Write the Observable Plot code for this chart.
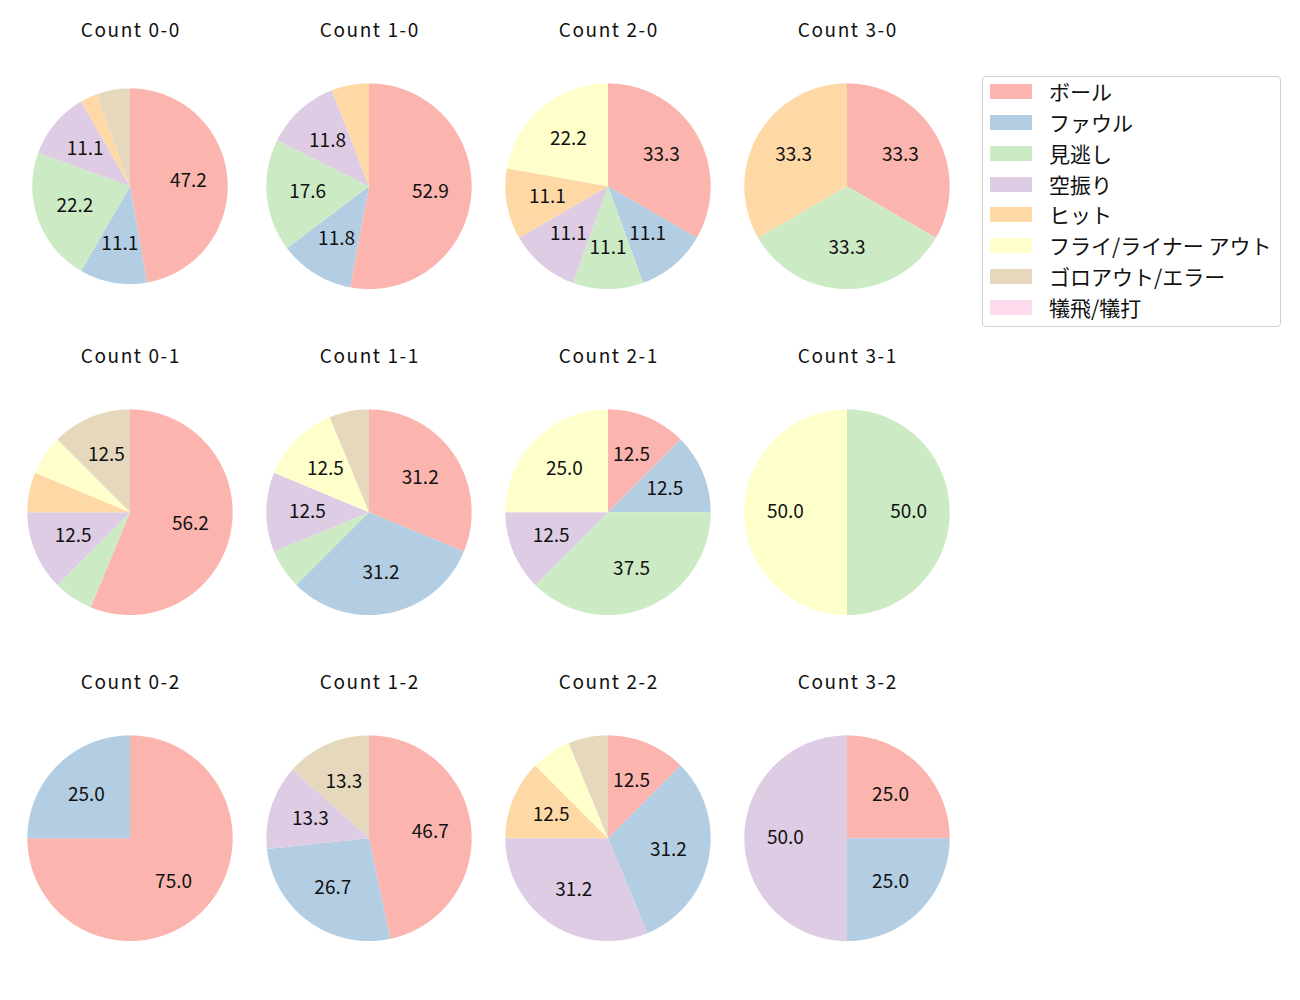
<!DOCTYPE html>
<html>
<head>
<meta charset="utf-8">
<script src="https://cdn.jsdelivr.net/npm/d3@7"></script>
<script src="https://cdn.jsdelivr.net/npm/@observablehq/plot@0.6"></script>
<style>
  body { margin: 0; background: #fff; font-family: "Noto Sans CJK JP", "Noto Sans", sans-serif; }
  #wrap { position: relative; width: 1300px; height: 1000px; }
  #chart { position: absolute; left: 0; top: 0; }
  #legend { position: absolute; left: 982px; top: 76px; width: 297px; height: 249px;
            border: 1px solid #d0d0d0; border-radius: 4px; background: #fff; }
  .row { position: absolute; left: 0; height: 30px; display: flex; align-items: center; }
  .sw { position: absolute; left: 7px; width: 42px; height: 15px; }
  .lb { position: absolute; left: 66px; white-space: nowrap; font-size: 21px; color: #111; line-height: 1; }
</style>
</head>
<body>
<div id="wrap"><div id="chart"></div><div id="legend"></div></div>
<script>
// ---- data ----
const categories = ["ボール", "ファウル", "見逃し", "空振り", "ヒット", "フライ/ライナー アウト", "ゴロアウト/エラー", "犠飛/犠打"];
const colors = ["#fbb4ae", "#b3cde3", "#ccebc5", "#decbe4", "#fed9a6", "#ffffcc", "#e5d8bd", "#fddaec"];
const counts = ["0-0", "1-0", "2-0", "3-0", "0-1", "1-1", "2-1", "3-1", "0-2", "1-2", "2-2", "3-2"];
const ball      = [17, 9, 3, 1, 9, 5, 1, 0, 3, 7, 2, 1];
const foul      = [4, 2, 1, 0, 0, 5, 1, 0, 1, 4, 5, 1];
const called    = [8, 3, 1, 1, 1, 1, 3, 1, 0, 0, 0, 0];
const swinging  = [4, 2, 1, 0, 2, 2, 1, 0, 0, 2, 5, 2];
const hit       = [1, 1, 1, 1, 1, 0, 0, 0, 0, 0, 2, 0];
const flyout    = [0, 0, 2, 0, 1, 2, 2, 1, 0, 0, 1, 0];
const groundout = [2, 0, 0, 0, 2, 1, 0, 0, 0, 2, 1, 0];
const sacrifice = [0, 0, 0, 0, 0, 0, 0, 0, 0, 0, 0, 0];
const series = [ball, foul, called, swinging, hit, flyout, groundout, sacrifice];

// ---- layout (pixels) ----
const R = 103;            // pie radius in px (= 1 data unit)
const fw = 239.8;         // facet width
const fh = 326.5;         // facet height
const ml = 8.5;
const width = 980;
const height = 1000;
const cy = 185;           // pie center offset from facet top

function fmt(p) { // round half to even like Python's %1.1f
  const v = p * 10;
  let r = Math.round(v);
  if (Math.abs(v - Math.floor(v) - 0.5) < 1e-9) { const f = Math.floor(v); r = f % 2 === 0 ? f : f + 1; }
  return (r / 10).toFixed(1);
}

const wedges = [];
const labels = [];
const titles = [];
counts.forEach((c, i) => {
  const [b, s] = c.split("-").map(Number);
  titles.push({b, s, text: "Count " + c});
  const vals = series.map(a => a[i]);
  const total = d3.sum(vals);
  const rr = (i === 0) ? 98 / 103 : 1;
  let acc = 0;
  vals.forEach((v, k) => {
    if (v <= 0) return;
    const a0 = acc / total * 2 * Math.PI;
    acc += v;
    const a1 = acc / total * 2 * Math.PI;
    const key = c + "|" + k;
    const n = Math.max(2, Math.ceil((a1 - a0) / (Math.PI / 180)));
    wedges.push({b, s, key, cat: categories[k], x: 0, y: 0});
    for (let j = 0; j <= n; j++) {
      const t = a0 + (a1 - a0) * j / n;
      wedges.push({b, s, key, cat: categories[k], x: rr * Math.sin(t), y: rr * Math.cos(t)});
    }
    wedges.push({b, s, key, cat: categories[k], x: 0, y: 0});
    const pct = 100 * v / total;
    if (pct >= 10) {
      const m = (a0 + a1) / 2;
      labels.push({b, s, x: 0.6 * rr * Math.sin(m), y: 0.6 * rr * Math.cos(m), text: fmt(pct)});
    }
  });
});

const plot = Plot.plot({
  width, height,
  marginLeft: ml, marginRight: width - ml - 4 * fw, marginTop: 0, marginBottom: height - 3 * fh,
  style: {fontFamily: "'Noto Sans CJK JP', sans-serif", background: "white"},
  fx: {domain: [0, 1, 2, 3], padding: 0, axis: null},
  fy: {domain: [0, 1, 2], padding: 0, axis: null},
  x: {domain: [-fw / 2 / R, fw / 2 / R], axis: null},
  y: {domain: [-(fh - cy) / R, cy / R], axis: null},
  color: {type: "ordinal", domain: categories, range: colors},
  marks: [
    Plot.line(wedges, {x: "x", y: "y", z: "key", fill: "cat", stroke: null, fx: "b", fy: "s", curve: "linear"}),
    Plot.text(labels, {x: "x", y: "y", text: "text", fx: "b", fy: "s", fontSize: 19, fill: "#111"}),
    Plot.text(titles, {text: "text", fx: "b", fy: "s", frameAnchor: "top", dy: 29, lineAnchor: "middle", fontSize: 19, fill: "#111", dx: 0.8, style: "letter-spacing: 1.6px"})
  ]
});
plot.querySelectorAll("g[aria-label='text'] text").forEach(t => {
  if (t.textContent.startsWith("Count")) t.setAttribute("letter-spacing", "1.6");
});
document.getElementById("chart").appendChild(plot);

// legend from the plot's color scale
const cs = plot.scale("color");
const lg = document.getElementById("legend");
cs.domain.forEach((d, i) => {
  const row = document.createElement("div");
  row.className = "row";
  row.style.top = (-0.3 + i * 30.8) + "px";
  row.style.width = "100%";
  const sw = document.createElement("div");
  sw.className = "sw";
  sw.style.background = cs.range[i];
  const lb = document.createElement("div");
  lb.className = "lb";
  lb.textContent = d;
  row.appendChild(sw); row.appendChild(lb);
  lg.appendChild(row);
});
</script>
</body>
</html>
